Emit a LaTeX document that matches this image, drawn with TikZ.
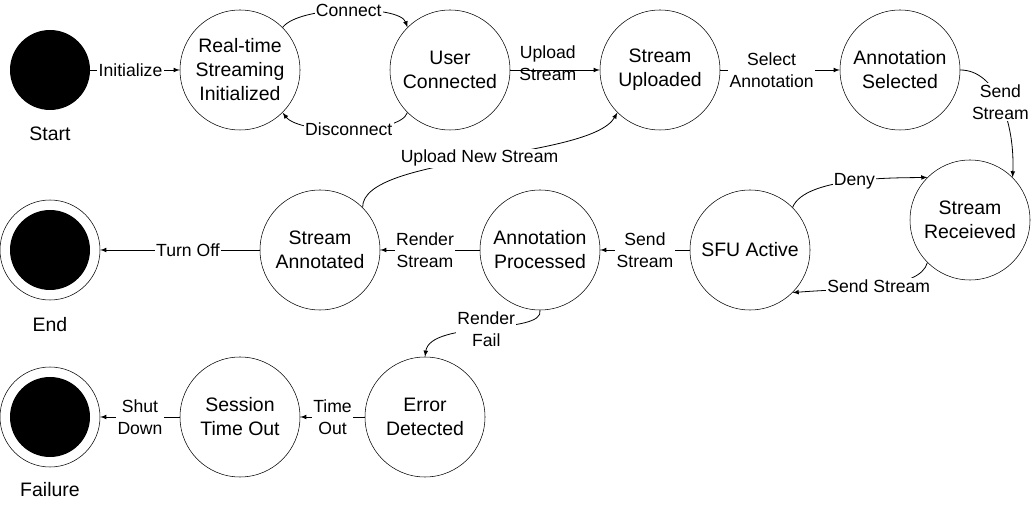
\documentclass[tikz,border=0pt]{standalone}
\usepackage{fontspec}
\setmainfont{Liberation Sans}
\usetikzlibrary{positioning}

\tikzset{
  state/.style={circle, draw, inner sep=0pt, minimum size=90pt, align=center,
    font=\fontsize{14.6}{18}\selectfont},
  initial/.style={circle, fill=black, inner sep=0pt, minimum size=60pt},
  final/.style={circle, draw, inner sep=0pt, minimum size=75pt,
    path picture={\fill[black] (path picture bounding box.center) circle (30pt);}},
  caption/.style={font=\fontsize{14.6}{18}\selectfont},
  edgelbl/.style={fill=white, inner sep=1pt, align=center,
    font=\fontsize{13.2}{16.5}\selectfont},
  trans/.style={semithick, -latex}
}

\begin{document}
\begin{tikzpicture}[x=0.75pt, y=-0.75pt]
\useasboundingbox (0,0) rectangle (1032,505);

% states
\node[initial] (start) at (50,70) {};
\node[caption] (startlbl) at (50,134) {Start};

\node[state] (rtinit) at (240,70) {Real-time\\Streaming\\Initialized};
\node[state] (userconn) at (450,70) {User\\Connected};
\node[state] (uploaded) at (660,70) {Stream\\Uploaded};
\node[state] (annsel) at (900,70) {Annotation\\Selected};
\node[state] (received) at (970,220) {Stream\\Receieved};
\node[state] (sfu) at (750,250) {SFU Active};
\node[state] (annproc) at (540,250) {Annotation\\Processed};
\node[state] (annotated) at (320,250) {Stream\\Annotated};

\node[final] (end) at (50,250) {};
\node[caption] (endlbl) at (50,325) {End};

\node[state] (error) at (425,417) {Error\\Detected};
\node[state] (timeout) at (240,417) {Session\\Time Out};

\node[final] (failure) at (50,417) {};
\node[caption] (faillbl) at (50,490) {Failure};

% transitions
\draw[trans] (start) -- node[edgelbl, pos=0.45] {Initialize} (rtinit);

\draw[trans] (rtinit.45) .. controls (300,5) and (400,5) ..
  node[edgelbl] {Connect} (userconn.135);
\draw[trans] (userconn.225) .. controls (400,135) and (300,135) ..
  node[edgelbl] {Disconnect} (rtinit.-45);

\draw[trans] (userconn) -- node[edgelbl, fill=none, pos=0.42, yshift=5pt] {Upload\\Stream} (uploaded);
\draw[trans] (uploaded) -- node[edgelbl, pos=0.43] {Select\\Annotation} (annsel);

\draw[trans] (annsel.east) .. controls (995,70) and (1015,120) ..
  node[edgelbl] {Send\\Stream} (received.45);

\draw[trans] (sfu.45) .. controls (805,176) and (900,178) ..
  node[edgelbl] {Deny} (received.135);
\draw[trans] (received.225) .. controls (920,290) and (850,288) ..
  node[edgelbl] {Send Stream} (sfu.-45);

\draw[trans] (sfu) -- node[edgelbl] {Send\\Stream} (annproc);
\draw[trans] (annproc) -- node[edgelbl, pos=0.55] {Render\\Stream} (annotated);
\draw[trans] (annotated) -- node[edgelbl, pos=0.45] {Turn Off} (end);

\draw[trans] (annotated.45) .. controls (362,155) and (590,160) ..
  node[edgelbl] {Upload New Stream} (uploaded.225);

\draw[trans] (annproc.south) .. controls (545,335) and (430,320) ..
  node[edgelbl] {Render\\Fail} (error.north);

\draw[trans] (error) -- node[edgelbl] {Time\\Out} (timeout);
\draw[trans] (timeout) -- node[edgelbl] {Shut\\Down} (failure);

\end{tikzpicture}
\end{document}
